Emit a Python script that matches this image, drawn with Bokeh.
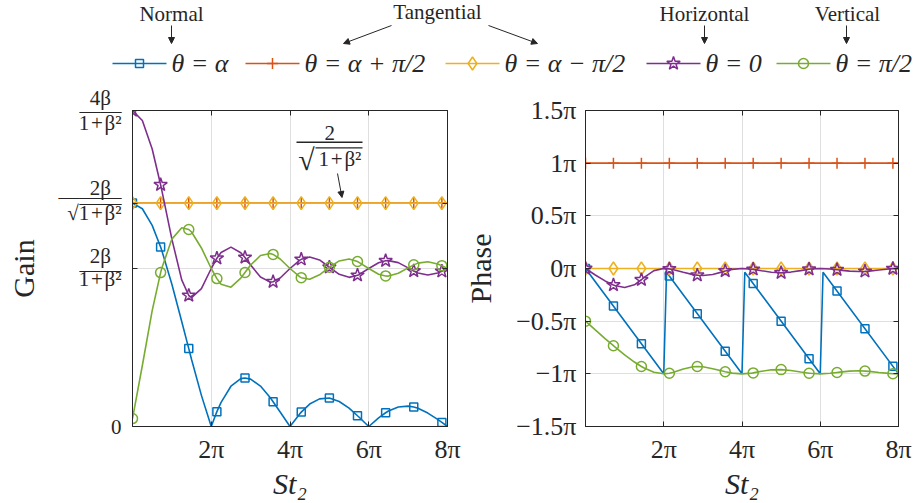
import pandas as pd
from bokeh.plotting import figure
from bokeh.layouts import column, row
from bokeh.models import Range1d, LinearAxis, FixedTicker, Grid, Label, Arrow, NormalHead
from bokeh.embed import file_html
from bokeh.resources import INLINE

# ---------------- data (St2 in units of pi) ----------------
u_line = [0, 0.25, 0.5, 0.75, 1, 1.25, 1.5, 1.75, 2, 2.25, 2.5, 2.75, 3, 3.25, 3.5, 3.75,
          4, 4.25, 4.5, 4.75, 5, 5.25, 5.5, 5.75, 6, 6.25, 6.5, 6.75, 7, 7.25, 7.5, 7.75, 8]
gain_normal = [1.414, 1.378, 1.273, 1.109, 0.900, 0.665, 0.424, 0.197, 0.0, 0.153, 0.255, 0.303,
               0.300, 0.256, 0.182, 0.092, 0.0, 0.081, 0.142, 0.175, 0.180, 0.158, 0.116, 0.060,
               0.0, 0.055, 0.098, 0.123, 0.129, 0.115, 0.085, 0.045, 0.0]
gain_horizontal = [2.0, 1.937, 1.756, 1.488, 1.186, 0.928, 0.816, 0.873, 1.0, 1.101, 1.135, 1.100,
                   1.022, 0.946, 0.914, 0.940, 1.0, 1.053, 1.073, 1.054, 1.008, 0.963, 0.944, 0.961,
                   1.0, 1.036, 1.050, 1.037, 1.004, 0.972, 0.959, 0.971, 1.0]
gain_vertical = [0.05, 0.386, 0.733, 1.007, 1.186, 1.258, 1.231, 1.130, 1.0, 0.901, 0.882, 0.939,
                 1.022, 1.082, 1.095, 1.060, 1.0, 0.947, 0.932, 0.960, 1.008, 1.048, 1.060, 1.039,
                 1.0, 0.964, 0.952, 0.970, 1.004, 1.034, 1.043, 1.029, 1.0]
phase_horizontal = [0, -0.062, -0.118, -0.162, -0.181, -0.155, -0.084, -0.020, 0.0, -0.012, -0.036,
                    -0.058, -0.067, -0.057, -0.032, -0.008, 0.0, -0.007, -0.021, -0.035, -0.040,
                    -0.034, -0.020, -0.005, 0.0, -0.005, -0.015, -0.025, -0.029, -0.025, -0.014,
                    -0.004, 0.0]
phase_vertical = [-0.5, -0.583, -0.665, -0.745, -0.820, -0.888, -0.945, -0.985, -1.0, -0.985, -0.954,
                  -0.933, -0.933, -0.951, -0.974, -0.993, -1.0, -0.993, -0.976, -0.962, -0.960,
                  -0.969, -0.983, -0.995, -1.0, -0.995, -0.984, -0.974, -0.971, -0.977, -0.987,
                  -0.996, -1.0]

u_normal_phase = [0, 2, 2.071, 4, 4.071, 6, 6.071, 8]
phase_normal = [0, -1, -0.036, -1, -0.036, -1, -0.036, -1]

u_const = [0, 8]
gain_tangential = [1.414, 1.414]
phase_tangential_plus = [1, 1]
phase_tangential_minus = [0, 0]

u_marker = [0, 0.714, 1.429, 2.143, 2.857, 3.571, 4.286, 5.0, 5.714, 6.429, 7.143, 7.857]
gain_normal_m = [1.414, 1.136, 0.493, 0.094, 0.307, 0.157, 0.091, 0.180, 0.068, 0.087, 0.123, 0.026]
gain_horizontal_m = [2.0, 1.530, 0.829, 1.065, 1.070, 0.916, 1.058, 1.008, 0.957, 1.049, 0.984, 0.982]
gain_vertical_m = [0.05, 0.974, 1.247, 0.936, 0.975, 1.089, 0.942, 1.008, 1.044, 0.953, 1.023, 1.018]
gain_tangential_m = [1.414, 1.414, 1.414, 1.414, 1.414, 1.414, 1.414, 1.414, 1.414, 1.414, 1.414, 1.414]
phase_normal_m = [0, -0.357, -0.714, -0.071, -0.429, -0.786, -0.143, -0.5, -0.857, -0.214, -0.571, -0.929]
phase_horizontal_m = [0, -0.157, -0.107, -0.004, -0.064, -0.024, -0.008, -0.040, -0.007, -0.012, -0.027, -0.001]
phase_vertical_m = [-0.5, -0.733, -0.930, -0.995, -0.930, -0.980, -0.991, -0.960, -0.994, -0.987, -0.974, -0.999]
phase_tangential_plus_m = [1, 1, 1, 1, 1, 1, 1, 1, 1, 1, 1, 1]
phase_tangential_minus_m = [0, 0, 0, 0, 0, 0, 0, 0, 0, 0, 0, 0]

x_ticks = [2, 4, 6, 8]
x_tick_labels = ["2π", "4π", "6π", "8π"]
gain_ticks = [0, 1, 1.41421356, 2]
phase_ticks = [-1.5, -1, -0.5, 0, 0.5, 1, 1.5]
phase_tick_labels = ["−1.5π", "−1π", "−0.5π", "0π", "0.5π", "1π", "1.5π"]
legend_labels = ["θ = α", "θ = α + π/2", "θ = α − π/2", "θ = 0", "θ = π/2"]
annotation_labels = ["Normal", "Tangential", "Horizontal", "Vertical"]

# gain tick labels (fractions written as stacked text pieces)
NUM_4B = "4β\u2002"
NUM_2B = "2β\u2002"
DEN = "1\u200a+\u200aβ²"
SQRT_DEN = "√1\u200a+\u200aβ²"
BAR2 = "——"
BAR3 = "———"
TOP_FRAC = NUM_4B + "\n" + BAR2 + "\n" + DEN

# ---------------- styles ----------------
FONT = "Liberation Serif"
TXT = "#262626"
GRID = "#dfdfdf"
COLORS = ["#0072BD", "#D95319", "#EDB120", "#7E2F8E", "#77AC30"]
MARKERS = ["square", "cross", "diamond", "star", "circle"]
MSIZES = [8, 11, 13, 14, 10]
LW = 1.6
FRAC = "21px"


def merged(u1, y1, u2, y2):
    df = pd.DataFrame({"u": list(u1) + list(u2), "y": list(y1) + list(y2)})
    df = df.drop_duplicates("u").sort_values("u")
    return list(df["u"]), list(df["y"])


def base_axis(ax):
    ax.axis_line_color = TXT
    ax.major_tick_line_color = TXT
    ax.minor_tick_line_color = TXT
    ax.major_tick_in = 5
    ax.major_tick_out = 0
    ax.minor_tick_in = 5
    ax.minor_tick_out = 0
    ax.major_label_text_font = FONT
    ax.major_label_text_color = TXT
    ax.major_label_text_font_size = "26px"
    ax.major_label_standoff = 8
    ax.axis_label_text_font = FONT
    ax.axis_label_text_color = TXT
    ax.axis_label_text_font_size = "30px"


def mirror_axis(p, ticks, side):
    # tick marks only (drawn as minor ticks so that no labels exist)
    ax = LinearAxis(ticker=FixedTicker(ticks=[], minor_ticks=ticks))
    base_axis(ax)
    ax.major_label_standoff = 0
    p.add_layout(ax, side)


def make_fig(width, mbl, mbr, y_range, y_ticks):
    p = figure(width=width, height=423, x_range=Range1d(0, 8), y_range=y_range,
               toolbar_location=None, output_backend="svg", x_axis_type=None, y_axis_type=None,
               min_border_left=mbl, min_border_right=mbr, min_border_top=30, min_border_bottom=77)
    p.outline_line_color = TXT
    xb = LinearAxis(axis_label="St₂", ticker=FixedTicker(ticks=x_ticks))
    base_axis(xb)
    xb.major_label_overrides = dict(zip(x_ticks, x_tick_labels))
    xb.axis_label_text_font_style = "italic"
    xb.axis_label_standoff = 0
    p.add_layout(xb, "below")
    mirror_axis(p, x_ticks, "above")
    mirror_axis(p, y_ticks, "right")
    p.add_layout(Grid(dimension=0, ticker=FixedTicker(ticks=x_ticks), grid_line_color=GRID))
    p.add_layout(Grid(dimension=1, ticker=FixedTicker(ticks=y_ticks), grid_line_color=GRID))
    return p


def add_series(p, u, y, um, ym, i):
    p.line(u, y, line_color=COLORS[i], line_width=LW)
    p.scatter(um, ym, marker=MARKERS[i], size=MSIZES[i], line_color=COLORS[i],
              fill_color=None, line_width=1.5)


def put_label(p, text, x, y, size=FRAC, align="center", style="normal"):
    p.add_layout(Label(x=x, y=y, text=text, text_font=FONT, text_font_size=size,
                       text_font_style=style, text_color=TXT, text_align=align,
                       text_baseline="middle"))


def put_bar(p, x0, x1, y, w=1.6):
    p.add_layout(Arrow(x_start=x0, y_start=y, x_end=x1, y_end=y, end=None,
                       line_color=TXT, line_width=w))


# ---------------- gain panel (frame on page: x 132..447, y 110..426) ----------------
gain = make_fig(461, 132, 14, Range1d(0, 2), gain_ticks)


def gx(px):
    return (px - 132) * 8 / 315


def gy(py):
    return (426 - py) * 2 / 316


gain_label_items = [("0", 426), (TOP_FRAC, 110),
                    (NUM_2B, 187.5), (BAR3, 196.5), (BAR2, 202.0), (SQRT_DEN, 212.5),
                    (NUM_2B, 255.5), (BAR2, 269.0), (DEN, 278.5)]
gain_label_pos = [gy(py) for _, py in gain_label_items]
yl = LinearAxis(axis_label="Gain", ticker=FixedTicker(ticks=gain_label_pos, minor_ticks=gain_ticks))
base_axis(yl)
yl.major_tick_in = 0
yl.major_label_text_font_size = FRAC
yl.major_label_text_line_height = 0.524
yl.major_label_standoff = 11
yl.major_label_overrides = {pos: text for pos, (text, _) in zip(gain_label_pos, gain_label_items)}
yl.axis_label_text_font_style = "normal"
yl.axis_label_standoff = 16
gain.add_layout(yl, "left")

add_series(gain, *merged(u_line, gain_normal, u_marker, gain_normal_m), u_marker, gain_normal_m, 0)
add_series(gain, u_const, gain_tangential, u_marker, gain_tangential_m, 1)
add_series(gain, u_const, gain_tangential, u_marker, gain_tangential_m, 2)
add_series(gain, *merged(u_line, gain_horizontal, u_marker, gain_horizontal_m), u_marker, gain_horizontal_m, 3)
add_series(gain, *merged(u_line, gain_vertical, u_marker, gain_vertical_m), u_marker, gain_vertical_m, 4)

# in-plot annotation 2/sqrt(1+beta^2)
put_label(gain, "2", gx(329.3), gy(132))
put_bar(gain, gx(296), gx(362), gy(141.8))
put_label(gain, "√", gx(306), gy(158.5), size="30px")
put_bar(gain, gx(315), gx(362), gy(147.3), w=1.2)
put_label(gain, DEN, gx(339.5), gy(158))
gain.add_layout(Arrow(x_start=gx(337), y_start=gy(173), x_end=gx(341.5), y_end=gy(197),
                      line_color=TXT, line_width=1,
                      end=NormalHead(size=6, fill_color=TXT, line_color=TXT)))

# ---------------- phase panel (frame on page: x 582..898) ----------------
phase = make_fig(461, 121, 24, Range1d(-1.5, 1.5), phase_ticks)
pl = LinearAxis(axis_label="Phase", ticker=FixedTicker(ticks=phase_ticks))
base_axis(pl)
pl.major_label_overrides = dict(zip(phase_ticks, phase_tick_labels))
pl.major_label_standoff = 9
pl.axis_label_text_font_style = "normal"
pl.axis_label_standoff = 16
phase.add_layout(pl, "left")

add_series(phase, u_normal_phase, phase_normal, u_marker, phase_normal_m, 0)
add_series(phase, u_const, phase_tangential_plus, u_marker, phase_tangential_plus_m, 1)
add_series(phase, u_const, phase_tangential_minus, u_marker, phase_tangential_minus_m, 2)
add_series(phase, *merged(u_line, phase_horizontal, u_marker, phase_horizontal_m), u_marker, phase_horizontal_m, 3)
add_series(phase, *merged(u_line, phase_vertical, u_marker, phase_vertical_m), u_marker, phase_vertical_m, 4)

# ---------------- legend strip (page pixel coordinates) ----------------
top = figure(width=922, height=80, x_range=Range1d(0, 922), y_range=Range1d(80, 0),
             toolbar_location=None, output_backend="svg", x_axis_type=None, y_axis_type=None,
             min_border=0)
top.outline_line_color = None

LEG_X0 = [112, 245, 445, 646, 776]
LEG_LEN = 54
LEG_Y = 63
for i, x0 in enumerate(LEG_X0):
    top.segment(x0=[x0], y0=[LEG_Y], x1=[x0 + LEG_LEN], y1=[LEG_Y], line_color=COLORS[i], line_width=LW)
    top.scatter([x0 + LEG_LEN / 2], [LEG_Y], marker=MARKERS[i], size=MSIZES[i], line_color=COLORS[i],
                fill_color=None, line_width=1.5)
    put_label(top, legend_labels[i], x0 + LEG_LEN + 5, LEG_Y, size="26px", align="left", style="italic")

ANN_POS = [(171, 13), (437, 11), (704, 13), (847, 13)]
for text, (ax, ay) in zip(annotation_labels, ANN_POS):
    put_label(top, text, ax, ay, size="21px")

ARROWS = [(171, 25, 171, 43), (391, 25, 343, 43), (488, 25, 537, 43), (704, 25, 704, 43), (846, 25, 846, 43)]
for xs, ys, xe, ye in ARROWS:
    top.add_layout(Arrow(x_start=xs, y_start=ys, x_end=xe, y_end=ye, line_color=TXT, line_width=1,
                         end=NormalHead(size=6, fill_color=TXT, line_color=TXT)))

layout = column(top, row(gain, phase))
open("out.html", "w").write(file_html(layout, INLINE))
